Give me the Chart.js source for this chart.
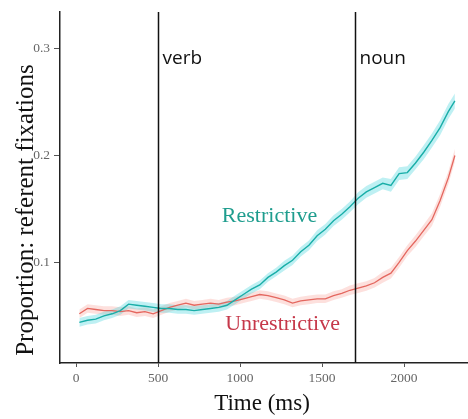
<!DOCTYPE html>
<html>
<head>
<meta charset="utf-8">
<script src="https://cdn.jsdelivr.net/npm/chart.js@4.4.0/dist/chart.umd.min.js"></script>
<style>
html,body{margin:0;padding:0;background:#fff;}
#wrap{width:468px;height:419px;}
</style>
</head>
<body>
<div id="wrap"><canvas id="c" width="468" height="419"></canvas></div>
<script>
// ---- data ----
const timesMs = [20,70,120,170,220,270,320,370,420,470,520,570,620,670,720,770,820,870,920,970,1020,1070,1120,1170,1220,1270,1320,1370,1420,1470,1520,1570,1620,1670,1720,1770,1820,1870,1920,1970,2020,2070,2120,2170,2220,2270,2310];
const restrictive = [0.044,0.046,0.047,0.050,0.052,0.055,0.061,0.060,0.059,0.058,0.057,0.057,0.056,0.056,0.055,0.056,0.057,0.058,0.060,0.065,0.070,0.075,0.079,0.086,0.091,0.097,0.102,0.110,0.116,0.125,0.131,0.139,0.145,0.152,0.160,0.166,0.170,0.174,0.172,0.183,0.184,0.193,0.203,0.214,0.226,0.241,0.251];
const unrestrictive = [0.052,0.057,0.056,0.055,0.055,0.054,0.055,0.053,0.054,0.052,0.055,0.058,0.060,0.062,0.060,0.061,0.062,0.061,0.063,0.064,0.066,0.068,0.070,0.069,0.067,0.065,0.062,0.064,0.065,0.066,0.066,0.069,0.071,0.074,0.076,0.078,0.081,0.086,0.090,0.100,0.111,0.120,0.130,0.140,0.158,0.179,0.200];
const restrictiveSE = [0.004,0.004,0.004,0.004,0.004,0.004,0.004,0.004,0.004,0.004,0.004,0.004,0.004,0.004,0.004,0.004,0.004,0.004,0.004,0.004,0.004,0.004,0.004,0.004,0.004,0.0045,0.0045,0.0045,0.0045,0.005,0.005,0.005,0.005,0.005,0.0055,0.0055,0.0055,0.0055,0.006,0.006,0.006,0.006,0.0065,0.0065,0.007,0.007,0.007];
const unrestrictiveSE = [0.004,0.004,0.004,0.004,0.004,0.004,0.004,0.004,0.004,0.004,0.004,0.004,0.004,0.004,0.004,0.004,0.004,0.004,0.004,0.004,0.004,0.004,0.004,0.004,0.004,0.004,0.004,0.004,0.004,0.004,0.004,0.004,0.004,0.0045,0.0045,0.0045,0.0045,0.005,0.005,0.005,0.005,0.0055,0.0055,0.006,0.006,0.006,0.006];
const xTicks = [0,500,1000,1500,2000];
const yTicks = [0.1,0.2,0.3];
const eventTimes = [500,1700];
const eventLabels = ['verb','noun'];
const seriesNames = ['Restrictive','Unrestrictive'];
const xTitle = 'Time (ms)';
const yTitle = 'Proportion: referent fixations';

// ---- build datasets ----
const pts = (vals) => timesMs.map((t,i)=>({x:t,y:vals[i]}));
const lo = (vals,se) => timesMs.map((t,i)=>({x:t,y:vals[i]-se[i]}));
const hi = (vals,se) => timesMs.map((t,i)=>({x:t,y:vals[i]+se[i]}));

const TEAL_LINE = '#19aea8', TEAL_FILL = 'rgba(40,205,215,0.30)';
const RED_LINE = '#e4675f', RED_FILL = 'rgba(248,130,120,0.25)';

const noPt = {pointRadius:0, pointHoverRadius:0};
const datasets = [
  {label:seriesNames[0], data:pts(restrictive), borderColor:TEAL_LINE, borderWidth:1.4, fill:false, ...noPt},
  {label:seriesNames[1], data:pts(unrestrictive), borderColor:RED_LINE, borderWidth:1.3, fill:false, ...noPt},
  {label:'r-lo', data:lo(restrictive,restrictiveSE), borderWidth:0, borderColor:'rgba(0,0,0,0)', fill:false, ...noPt},
  {label:'r-hi', data:hi(restrictive,restrictiveSE), borderWidth:0, borderColor:'rgba(0,0,0,0)', backgroundColor:TEAL_FILL, fill:2, ...noPt},
  {label:'u-lo', data:lo(unrestrictive,unrestrictiveSE), borderWidth:0, borderColor:'rgba(0,0,0,0)', fill:false, ...noPt},
  {label:'u-hi', data:hi(unrestrictive,unrestrictiveSE), borderWidth:0, borderColor:'rgba(0,0,0,0)', backgroundColor:RED_FILL, fill:4, ...noPt}
];

const annot = {
  id:'annot',
  afterDatasetsDraw(chart){
    const {ctx, chartArea:a, scales:{x,y}} = chart;
    ctx.save();
    ctx.strokeStyle = '#111';
    ctx.lineWidth = 1.5;
    eventTimes.forEach((t,i)=>{
      const px = Math.round(x.getPixelForValue(t))+0.5;
      ctx.beginPath(); ctx.moveTo(px,a.top); ctx.lineTo(px,a.bottom); ctx.stroke();
      ctx.fillStyle = '#111';
      ctx.font = '19px "Open Sans"';
      ctx.textAlign = 'left'; ctx.textBaseline = 'alphabetic';
      ctx.fillText(eventLabels[i], px+4, y.getPixelForValue(0.2855));
    });
    ctx.font = '22px "Liberation Serif"';
    ctx.textAlign = 'left'; ctx.textBaseline = 'alphabetic';
    ctx.fillStyle = '#1f9d8e';
    ctx.fillText(seriesNames[0], x.getPixelForValue(889), y.getPixelForValue(0.1379));
    ctx.fillStyle = '#c6384a';
    ctx.fillText(seriesNames[1], x.getPixelForValue(909), y.getPixelForValue(0.0367));
    ctx.fillStyle = '#111';
    ctx.font = '23px "Liberation Serif"';
    ctx.textAlign = 'center';
    ctx.fillText(xTitle, 262, 410);
    ctx.save();
    ctx.translate(33, 210);
    ctx.rotate(-Math.PI/2);
    ctx.font = '25px "Liberation Serif"';
    ctx.fillText(yTitle, 0, 0);
    ctx.restore();
    ctx.restore();
  }
};

new Chart(document.getElementById('c'), {
  type:'line',
  data:{datasets},
  options:{
    responsive:false,
    animation:false,
    events:[],
    layout:{padding:{top:12,right:0,left:0,bottom:0}},
    plugins:{legend:{display:false}, tooltip:{enabled:false}},
    elements:{line:{tension:0}},
    scales:{
      x:{
        type:'linear', min:-98, max:2390,
        afterBuildTicks:(s)=>{ s.ticks = xTicks.map(v=>({value:v})); },
        afterFit:(s)=>{ s.height = 56; },
        grid:{display:true, drawOnChartArea:false, drawTicks:true, tickLength:4, color:'#555', lineWidth:1},
        border:{display:true, color:'#222', width:1.5},
        ticks:{color:'#666', font:{family:'Liberation Serif', size:13.5}, padding:3, maxRotation:0, autoSkip:false, callback:(v)=>String(v)}
      },
      y:{
        type:'linear', min:0.006, max:0.334,
        afterBuildTicks:(s)=>{ s.ticks = yTicks.map(v=>({value:v})); },
        afterFit:(s)=>{ s.width = 60; },
        grid:{display:true, drawOnChartArea:false, drawTicks:true, tickLength:6, color:'#555', lineWidth:1},
        border:{display:true, color:'#222', width:1.5},
        ticks:{color:'#666', font:{family:'Liberation Serif', size:13.5}, padding:4, callback:(v)=>String(v)}
      }
    }
  },
  plugins:[annot]
});
</script>
</body>
</html>
